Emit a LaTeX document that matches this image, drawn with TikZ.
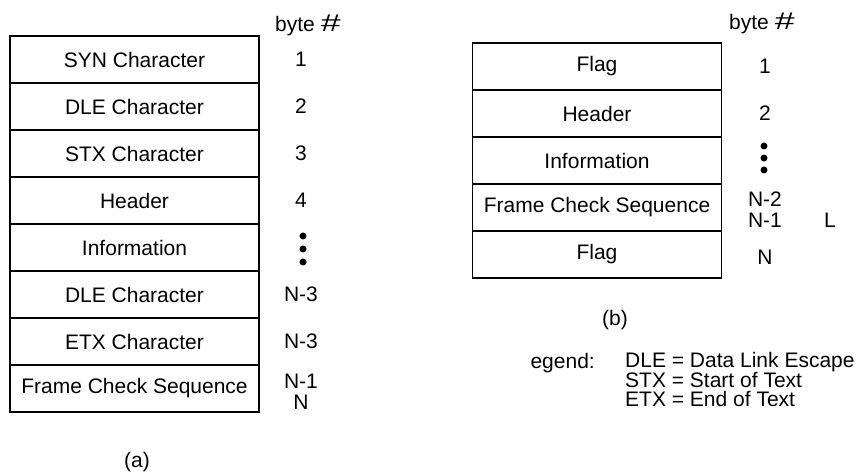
\documentclass[tikz,border=0pt]{standalone}
\usepackage{fontspec}
\setmainfont{Liberation Sans}
\usetikzlibrary{positioning}
\newcommand{\bnum}{byte\hspace{6pt}\scalebox{1.7}[1.15]{$\#$}}

\begin{document}
\begin{tikzpicture}[x=1pt, y=-1pt,
    fld/.style={draw, line width=1.1pt, minimum width=249pt, minimum height=47pt,
                inner sep=0pt, text centered, font=\fontsize{21}{24}\selectfont},
    num/.style={inner sep=0pt, align=center, font=\fontsize{21}{21}\selectfont},
    lbl/.style={inner sep=0pt, font=\fontsize{21}{24}\selectfont},
    dot/.style={circle, fill, inner sep=0pt, minimum size=7pt}
  ]
  \useasboundingbox (0,0) rectangle (863,473);

  \node[fld] (syn)  at (134.5, 59.5)  {SYN Character};
  \node[fld] (dle)  at (134.5, 106.5) {DLE Character};
  \node[fld] (stx)  at (134.5, 153.5) {STX Character};
  \node[fld] (hdr)  at (134.5, 200.5) {Header};
  \node[fld] (info) at (134.5, 247.5) {Information};
  \node[fld] (dlee) at (134.5, 294.5) {DLE Character};
  \node[fld] (etx)  at (134.5, 341.5) {ETX Character};
  \node[fld] (fcs)  at (134.5, 388.5) {Frame Check Sequence};

  \node[lbl, anchor=base west] (bytea) at (275, 32) {\bnum};
  \node[num] (na1) at (301, 59.5)  {1};
  \node[num] (na2) at (301, 106.5) {2};
  \node[num] (na3) at (301, 153.5) {3};
  \node[num] (na4) at (301, 200.5) {4};
  \node[dot] (da1) at (303, 236) {};
  \node[dot] (da2) at (303, 249) {};
  \node[dot] (da3) at (303, 262) {};
  \node[num] (na5) at (301, 294.5) {N-3};
  \node[num] (na6) at (301, 341.5) {N-3};
  \node[num] (na7) at (301, 392)   {N-1\\N};
  \node[lbl] (capa) at (137, 462) {(a)};

  \node[fld] (flag)  at (597, 66.5)  {Flag};
  \node[fld] (hdrb)  at (597, 113.5) {Header};
  \node[fld] (infob) at (597, 160.5) {Information};
  \node[fld] (fcsb)  at (597, 207.5) {Frame Check Sequence};
  \node[fld] (flagb) at (597, 254.5) {Flag};

  \node[lbl, anchor=base west] (byteb) at (729, 30) {\bnum};
  \node[num] (nb1) at (765, 66.5)  {1};
  \node[num] (nb2) at (765, 113.5) {2};
  \node[dot] (db1) at (764, 146) {};
  \node[dot] (db2) at (764, 158) {};
  \node[dot] (db3) at (764, 170) {};
  \node[num] (nb3) at (765, 210)   {N-2\\N-1};
  \node[num] (nbl) at (830, 220)   {L};
  \node[num] (nb4) at (765, 257)   {N};
  \node[lbl] (capb) at (615, 320) {(b)};

  \node[lbl, anchor=base east] (lgd) at (595, 368) {egend:};
  \node[lbl, anchor=north west, align=left, font=\fontsize{21}{19}\selectfont]
    (lgdt) at (625, 352) {DLE = Data Link Escape\\STX = Start of Text\\ETX = End of Text};
\end{tikzpicture}
\end{document}
